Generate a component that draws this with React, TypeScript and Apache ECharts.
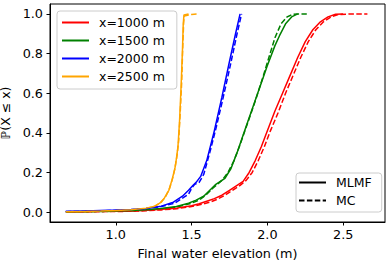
import React, { useEffect, useRef } from "react";
import * as echarts from "echarts";

const xTicks = [1.0, 1.5, 2.0, 2.5];
const yTicks = [0.0, 0.2, 0.4, 0.6, 0.8, 1.0];

const names = ["x=1000 m", "x=1500 m", "x=2000 m", "x=2500 m"];
const colors = ["#ff0000", "#008000", "#0000ff", "#ffa500"];

// x = 1000 m
const redMlmfX = [0.67, 0.9, 1.1, 1.2, 1.3, 1.4, 1.5, 1.55, 1.6, 1.65, 1.7, 1.75, 1.8, 1.84, 1.88, 1.92, 1.96, 2.0, 2.05, 2.1, 2.15, 2.2, 2.25, 2.3, 2.35, 2.4, 2.45, 2.5];
const redMlmfY = [0.002, 0.004, 0.006, 0.009, 0.014, 0.02, 0.032, 0.042, 0.055, 0.068, 0.085, 0.11, 0.135, 0.155, 0.2, 0.26, 0.33, 0.41, 0.51, 0.6, 0.69, 0.78, 0.86, 0.92, 0.96, 0.985, 0.998, 1.0];
const redMcX = [0.7, 0.9, 1.1, 1.2, 1.3, 1.4, 1.5, 1.56, 1.62, 1.67, 1.72, 1.77, 1.82, 1.86, 1.9, 1.94, 1.98, 2.02, 2.07, 2.12, 2.17, 2.22, 2.27, 2.32, 2.37, 2.42, 2.47, 2.55, 2.66];
const redMcY = [0.0, 0.002, 0.004, 0.007, 0.011, 0.017, 0.028, 0.038, 0.05, 0.065, 0.085, 0.11, 0.135, 0.16, 0.2, 0.26, 0.33, 0.41, 0.5, 0.6, 0.69, 0.78, 0.86, 0.92, 0.96, 0.985, 0.997, 1.0, 1.0];

// x = 1500 m
const greenMlmfX = [0.67, 0.9, 1.1, 1.2, 1.3, 1.4, 1.48, 1.53, 1.58, 1.62, 1.66, 1.69, 1.72, 1.76, 1.8, 1.85, 1.9, 1.95, 2.0, 2.05, 2.08, 2.12, 2.16, 2.2];
const greenMlmfY = [0.002, 0.004, 0.008, 0.012, 0.018, 0.028, 0.045, 0.06, 0.08, 0.11, 0.14, 0.155, 0.17, 0.22, 0.3, 0.41, 0.52, 0.63, 0.74, 0.84, 0.89, 0.95, 0.985, 1.0];
const greenMcX = [0.68, 0.9, 1.1, 1.2, 1.3, 1.4, 1.5, 1.55, 1.6, 1.64, 1.67, 1.7, 1.74, 1.78, 1.82, 1.87, 1.92, 1.97, 2.01, 2.05, 2.09, 2.13, 2.17, 2.2, 2.26];
const greenMcY = [0.0, 0.003, 0.006, 0.01, 0.016, 0.025, 0.045, 0.06, 0.09, 0.12, 0.14, 0.16, 0.2, 0.26, 0.34, 0.45, 0.56, 0.68, 0.78, 0.88, 0.95, 0.985, 0.998, 1.0, 1.0];

// x = 2000 m
const blueMlmfX = [0.67, 0.8, 0.9, 1.0, 1.1, 1.2, 1.3, 1.38, 1.44, 1.48, 1.51, 1.53, 1.56, 1.6, 1.65, 1.7, 1.75, 1.79, 1.82];
const blueMlmfY = [0.004, 0.006, 0.008, 0.01, 0.013, 0.018, 0.03, 0.05, 0.08, 0.11, 0.135, 0.15, 0.18, 0.26, 0.41, 0.58, 0.76, 0.9, 1.0];
const blueMcX = [0.67, 0.8, 0.9, 1.0, 1.1, 1.2, 1.3, 1.39, 1.45, 1.48, 1.5, 1.52, 1.55, 1.58, 1.62, 1.66, 1.7, 1.75, 1.8, 1.83];
const blueMcY = [0.002, 0.004, 0.006, 0.009, 0.012, 0.017, 0.028, 0.045, 0.075, 0.09, 0.12, 0.14, 0.15, 0.19, 0.3, 0.42, 0.55, 0.72, 0.9, 1.0];

// x = 2500 m
const orangeMlmfX = [0.67, 0.8, 0.9, 1.0, 1.1, 1.2, 1.25, 1.29, 1.32, 1.35, 1.37, 1.39, 1.4, 1.41, 1.42, 1.43, 1.44, 1.445, 1.45, 1.48];
const orangeMlmfY = [0.002, 0.003, 0.005, 0.008, 0.012, 0.02, 0.028, 0.045, 0.07, 0.11, 0.16, 0.22, 0.27, 0.33, 0.45, 0.62, 0.82, 0.95, 0.995, 1.0];
const orangeMcX = [0.68, 0.85, 1.0, 1.1, 1.2, 1.26, 1.3, 1.33, 1.355, 1.375, 1.39, 1.405, 1.415, 1.425, 1.435, 1.442, 1.448, 1.452, 1.5, 1.545];
const orangeMcY = [0.0, 0.003, 0.007, 0.011, 0.018, 0.03, 0.05, 0.08, 0.12, 0.17, 0.22, 0.29, 0.36, 0.5, 0.66, 0.84, 0.96, 0.99, 0.997, 1.0];

const mlmf = [
  [redMlmfX, redMlmfY],
  [greenMlmfX, greenMlmfY],
  [blueMlmfX, blueMlmfY],
  [orangeMlmfX, orangeMlmfY],
];
const mc = [
  [redMcX, redMcY],
  [greenMcX, greenMcY],
  [blueMcX, blueMcY],
  [orangeMcX, orangeMcY],
];

const FONT = "DejaVu Sans";
const DASH = [5.5, 2.4];

const zip = (xs: number[], ys: number[]) => xs.map((x, i) => [x, ys[i]]);

export default function App() {
  const ref = useRef<HTMLDivElement>(null);
  useEffect(() => {
    if (!ref.current) return;
    const chart = echarts.init(ref.current, null, { renderer: "svg" });
    const series: any[] = [];
    mlmf.forEach(([xs, ys], i) => {
      series.push({
        name: names[i],
        type: "line",
        data: zip(xs, ys),
        symbol: "none",
        lineStyle: { color: colors[i], width: 1.5, type: "solid" },
        itemStyle: { color: colors[i] },
        z: 3,
      });
    });
    mc.forEach(([xs, ys], i) => {
      series.push({
        name: names[i] + " MC",
        type: "line",
        data: zip(xs, ys),
        symbol: "none",
        lineStyle: { color: colors[i], width: 1.5, type: DASH },
        itemStyle: { color: colors[i] },
        z: 2,
      });
    });
    series.push({
      name: "MLMF",
      type: "line",
      data: [],
      symbol: "none",
      lineStyle: { color: "#000", width: 1.5, type: "solid" },
      itemStyle: { color: "#000" },
    });
    series.push({
      name: "MC",
      type: "line",
      data: [],
      symbol: "none",
      lineStyle: { color: "#000", width: 1.5, type: DASH },
      itemStyle: { color: "#000" },
    });

    const legendCommon = {
      orient: "vertical",
      backgroundColor: "rgba(255,255,255,0.8)",
      borderColor: "#cccccc",
      borderWidth: 1,
      borderRadius: 3,
      itemWidth: 27,
      itemHeight: 14,
      itemGap: 5,
      itemStyle: { opacity: 0 },
      textStyle: { fontFamily: FONT, fontSize: 12.5, color: "#000", padding: [0, 0, 0, 5] },
    };

    chart.setOption({
      animation: false,
      grid: {
        left: 50,
        top: 4,
        right: 6,
        bottom: 40,
        show: true,
        borderColor: "#000",
        borderWidth: 1,
        backgroundColor: "transparent",
        containLabel: false,
        outerBoundsMode: "none",
      },
      legend: [
        {
          ...legendCommon,
          left: 57,
          top: 11,
          padding: [5, 12, 6, 4],
          data: names,
        },
        {
          ...legendCommon,
          left: 296,
          top: 173,
          padding: [3, 10, 5, 2],
          data: ["MLMF", "MC"],
        },
      ],
      xAxis: {
        type: "value",
        min: 0.566,
        max: 2.776,
        splitLine: { show: false },
        axisLine: { show: true, onZero: false, lineStyle: { color: "#000", width: 1 } },
        axisTick: { show: true, length: 3.5, customValues: xTicks, lineStyle: { color: "#000" } },
        axisLabel: {
          customValues: xTicks,
          formatter: (v: number) => v.toFixed(1),
          fontFamily: FONT,
          fontSize: 12.8,
          color: "#000",
          margin: 6,
        },
        name: "Final water elevation (m)",
        nameLocation: "middle",
        nameGap: 25,
        nameTextStyle: { fontFamily: FONT, fontSize: 12.8, color: "#000" },
      },
      yAxis: {
        type: "value",
        min: -0.05,
        max: 1.05,
        splitLine: { show: false },
        axisLine: { show: true, onZero: false, lineStyle: { color: "#000", width: 1 } },
        axisTick: { show: true, length: 3.5, customValues: yTicks, lineStyle: { color: "#000" } },
        axisLabel: {
          customValues: yTicks,
          formatter: (v: number) => v.toFixed(1),
          fontFamily: FONT,
          fontSize: 12.8,
          color: "#000",
          margin: 7,
        },
        name: "ℙ(X ≤ x)",
        nameLocation: "middle",
        nameGap: 28,
        nameTextStyle: {
          fontFamily: FONT,
          fontSize: 12.5,
          color: "#000",
        },
      },
      series,
    });
    return () => chart.dispose();
  }, []);
  return <div ref={ref} style={{ width: 391, height: 262, position: "absolute", left: 0, top: 0 }} />;
}
